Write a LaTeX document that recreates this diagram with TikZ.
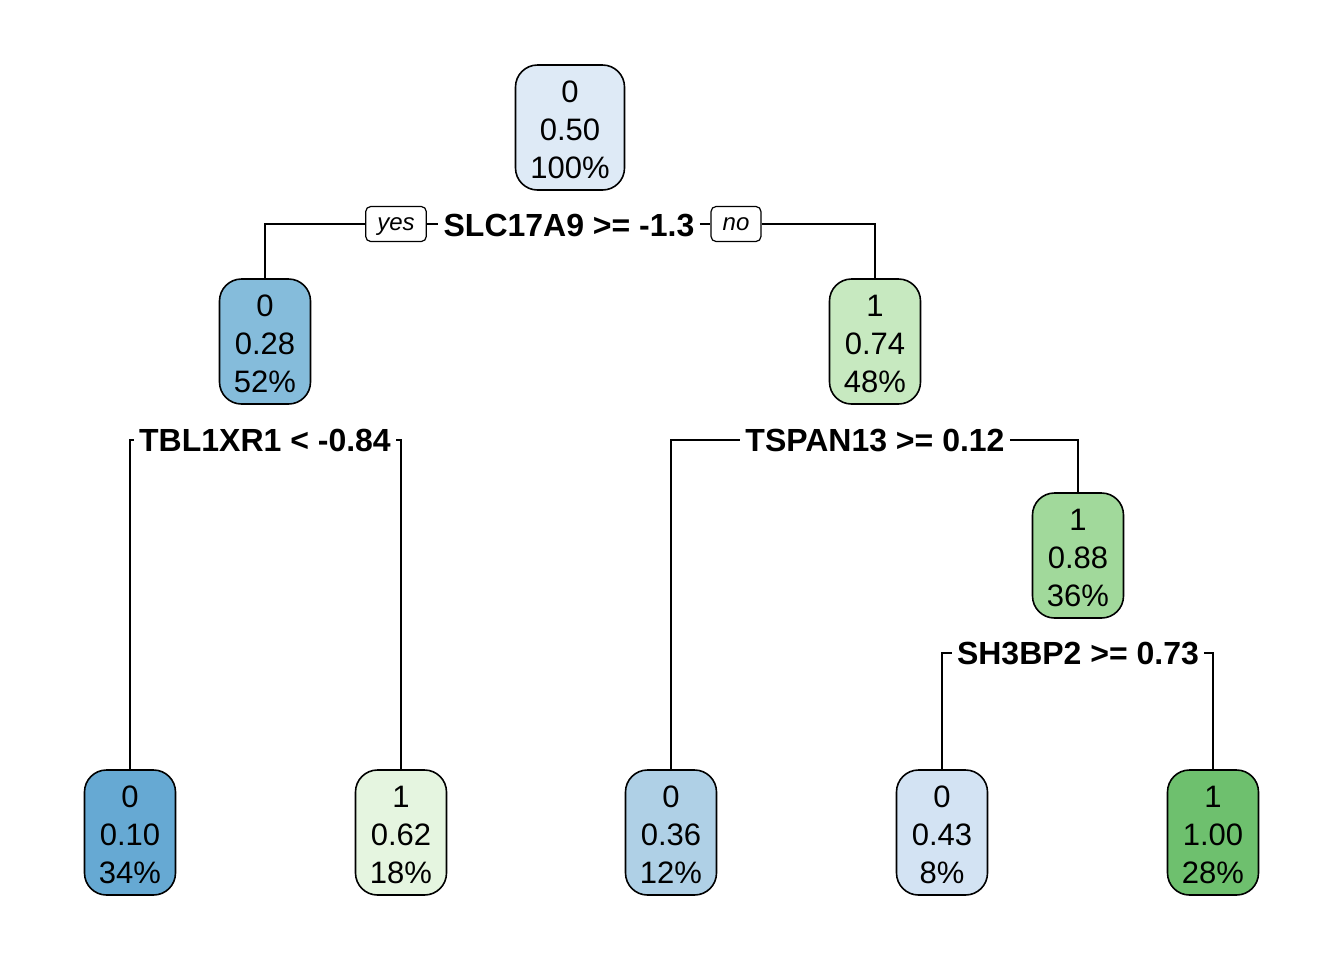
\documentclass[tikz,border=0pt]{standalone}
\usepackage{fontspec}
\setmainfont{Liberation Sans}
\definecolor{cRoot}{HTML}{DEEAF6}
\definecolor{cB28}{HTML}{85BCDB}
\definecolor{cB10}{HTML}{66A9D3}
\definecolor{cB36}{HTML}{AFD0E6}
\definecolor{cB43}{HTML}{D3E3F3}
\definecolor{cG62}{HTML}{E5F5E0}
\definecolor{cG74}{HTML}{C7E9C0}
\definecolor{cG88}{HTML}{A1D99B}
\definecolor{cG100}{HTML}{6EC06E}
\newcommand{\tlines}[3]{\rule{0pt}{13.2pt}#1\\#2\\#3}
\tikzset{
  treenode/.style={draw=black, line width=0.8pt, rounded corners=11pt, minimum width=45.5pt, minimum height=62.5pt, inner sep=0pt, align=center, font=\fontsize{15.5}{19}\selectfont},
  splitlab/.style={inner xsep=2.5pt, inner ysep=0pt, font=\fontsize{16}{19}\selectfont\bfseries},
  yesno/.style={draw=black, line width=0.6pt, rounded corners=2.5pt, inner xsep=5.8pt, inner ysep=0pt, text height=9.2pt, text depth=2.6pt, minimum height=17.5pt, font=\fontsize{12}{14}\selectfont\itshape},
  conn/.style={line width=0.7pt, black}
}
\begin{document}
\begin{tikzpicture}[x=0.5pt, y=-0.5pt]
\useasboundingbox (0,0) rectangle (1344,960);
% nodes
\node[treenode, fill=cRoot, minimum width=54.5pt] (root) at (570,127.5) {\tlines{0}{0.50}{100\%}};
\node[treenode, fill=cB28] (n2) at (265,341.5) {\tlines{0}{0.28}{52\%}};
\node[treenode, fill=cG74] (n3) at (875,341.5) {\tlines{1}{0.74}{48\%}};
\node[treenode, fill=cG88] (n7) at (1078,555.5) {\tlines{1}{0.88}{36\%}};
\node[treenode, fill=cB10] (l4) at (130,832.5) {\tlines{0}{0.10}{34\%}};
\node[treenode, fill=cG62] (l5) at (401,832.5) {\tlines{1}{0.62}{18\%}};
\node[treenode, fill=cB36] (l6) at (671,832.5) {\tlines{0}{0.36}{12\%}};
\node[treenode, fill=cB43] (l14) at (942,832.5) {\tlines{0}{0.43}{8\%}};
\node[treenode, fill=cG100] (l15) at (1213,832.5) {\tlines{1}{1.00}{28\%}};
% split labels
\node[splitlab] (s1) at (569,225) {SLC17A9 >= -1.3};
\node[yesno] (yes) at (396,224) {yes};
\node[yesno] (no) at (736,224) {no};
\node[splitlab] (s2) at (265,440) {TBL1XR1 < -0.84};
\node[splitlab] (s3) at (875,440) {TSPAN13 >= 0.12};
\node[splitlab] (s4) at (1078,653) {SH3BP2 >= 0.73};
% connectors
\draw[conn] (n2.north) |- (yes.west);
\draw[conn] (yes.east) -- (yes.east -| s1.west);
\draw[conn] (no.west -| s1.east) -- (no.west);
\draw[conn] (no.east) -| (n3.north);
\draw[conn] (l4.north) |- (s2.west);
\draw[conn] (s2.east) -| (l5.north);
\draw[conn] (l6.north) |- (s3.west);
\draw[conn] (s3.east) -| (n7.north);
\draw[conn] (l14.north) |- (s4.west);
\draw[conn] (s4.east) -| (l15.north);
\end{tikzpicture}
\end{document}
